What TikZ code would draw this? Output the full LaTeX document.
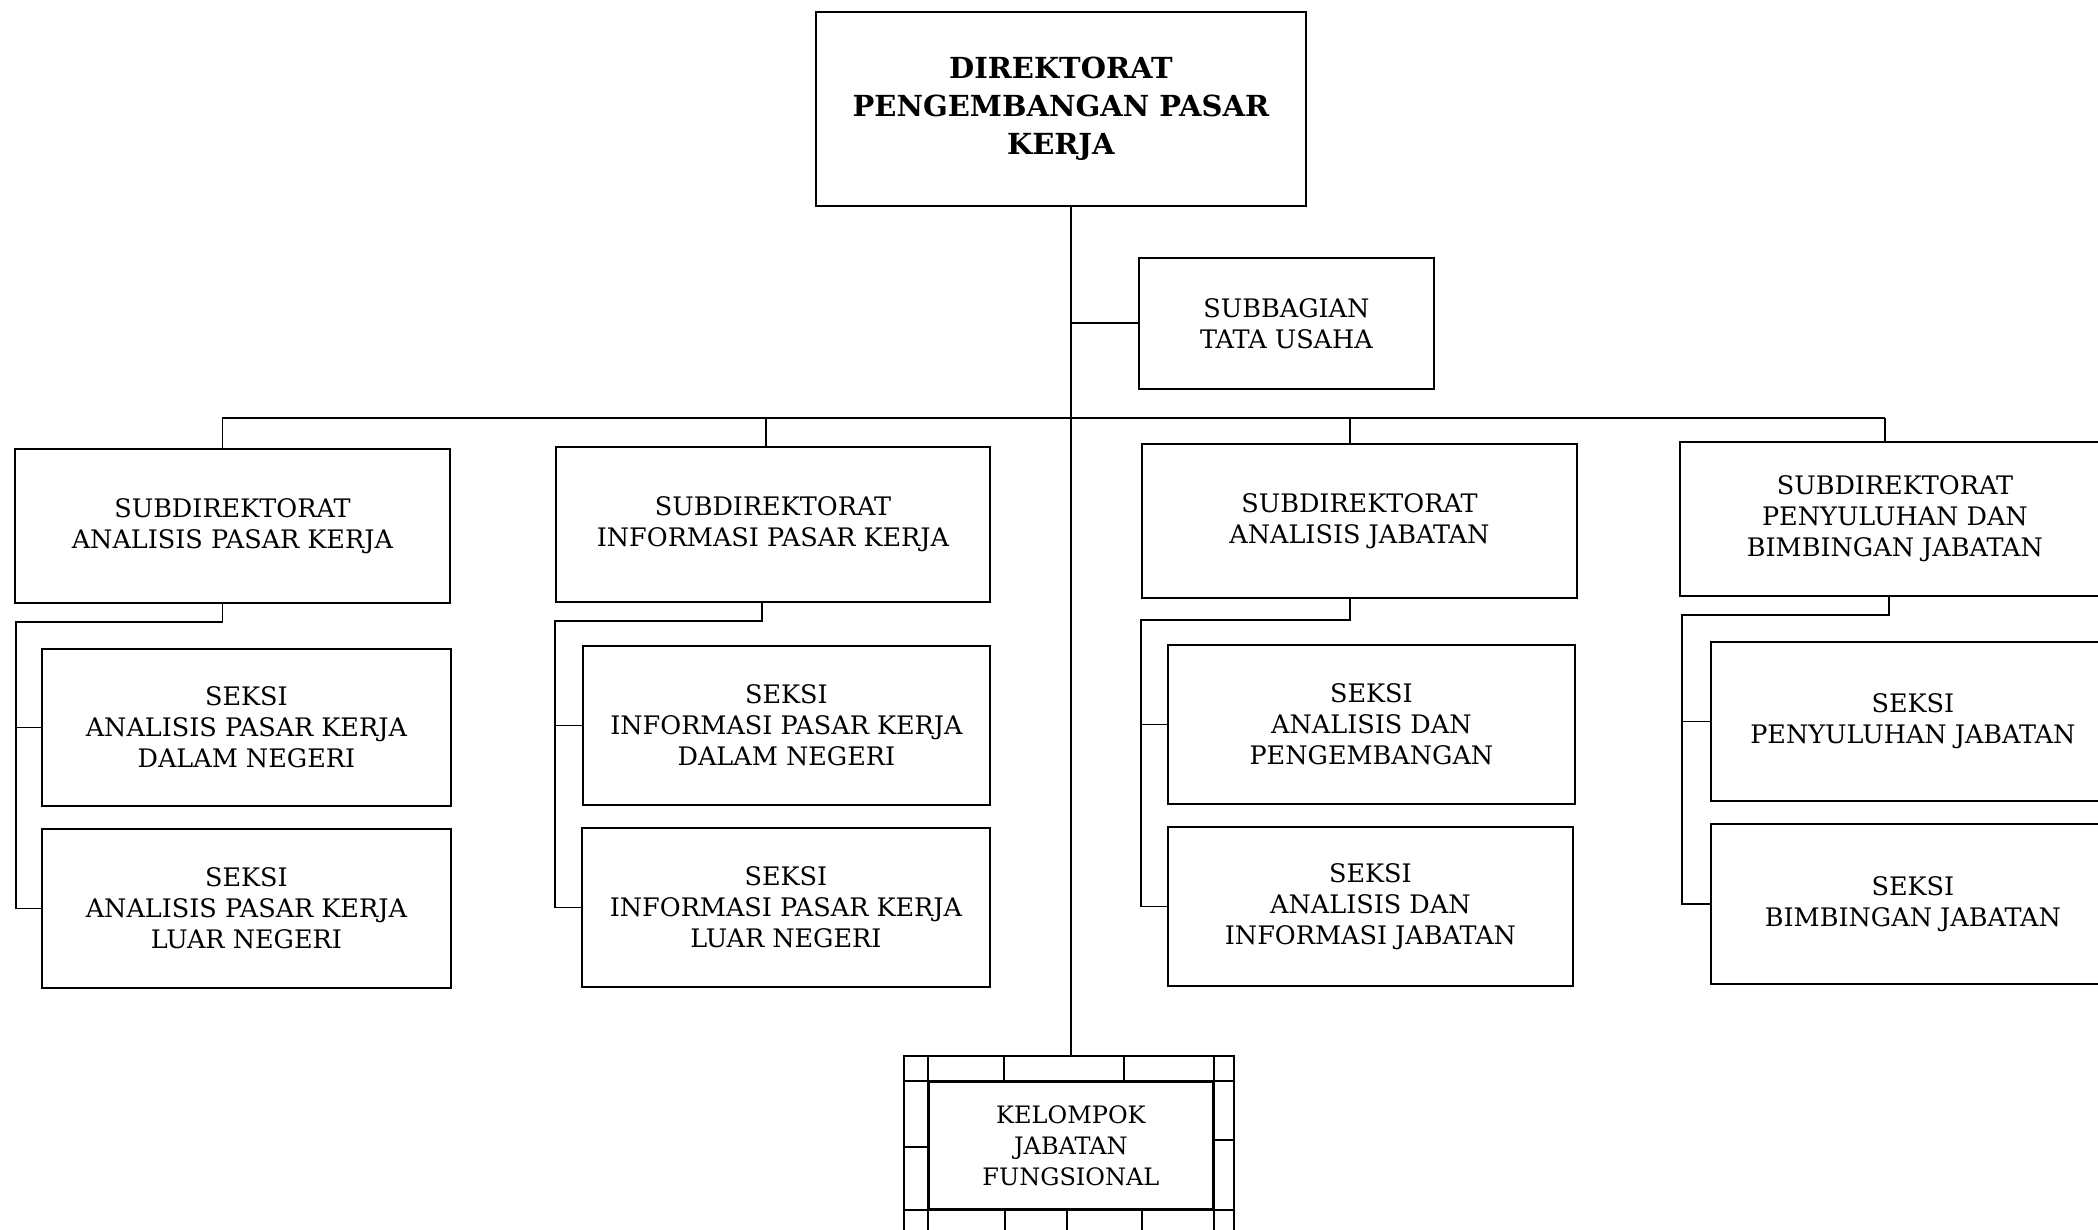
\documentclass[tikz,border=0pt]{standalone}
\usepackage{fontspec}
\setmainfont{DejaVu Serif}
\newfontfamily\headfont{DejaVu Serif}
\begin{document}
\begin{tikzpicture}[x=1pt, y=-1pt, line width=1.8pt,
  unit/.style={draw, rectangle, inner sep=0pt, align=center, anchor=north west,
    font=\fontsize{25.5}{31}\selectfont},
  headunit/.style={unit, font=\headfont\bfseries\fontsize{29}{38}\selectfont},
  link/.style={line width=1.8pt}]
\useasboundingbox (0,0) rectangle (2098,1230);
\clip (0,0) rectangle (2098,1230);

% directorate and administration
\node[headunit, minimum width=490pt, minimum height=194pt] (dir) at (815,11)
  {DIREKTORAT\\PENGEMBANGAN PASAR\\KERJA};
\node[unit, minimum width=295pt, minimum height=131pt] (tu) at (1138,257)
  {SUBBAGIAN\\TATA USAHA};

% sub-directorates
\node[unit, minimum width=435pt, minimum height=154pt] (sd1) at (14,448)
  {SUBDIREKTORAT\\ANALISIS PASAR KERJA};
\node[unit, minimum width=434pt, minimum height=155pt] (sd2) at (555,446)
  {SUBDIREKTORAT\\INFORMASI PASAR KERJA};
\node[unit, minimum width=435pt, minimum height=154pt] (sd3) at (1141,443)
  {SUBDIREKTORAT\\ANALISIS JABATAN};
\node[unit, minimum width=430pt, minimum height=154pt] (sd4) at (1679,441)
  {SUBDIREKTORAT\\PENYULUHAN DAN\\BIMBINGAN JABATAN};

% sections
\node[unit, minimum width=409pt, minimum height=157pt] (s11) at (41,648)
  {SEKSI\\ANALISIS PASAR KERJA\\DALAM NEGERI};
\node[unit, minimum width=409pt, minimum height=159pt] (s12) at (41,828)
  {SEKSI\\ANALISIS PASAR KERJA\\LUAR NEGERI};
\node[unit, minimum width=407pt, minimum height=159pt] (s21) at (582,645)
  {SEKSI\\INFORMASI PASAR KERJA\\DALAM NEGERI};
\node[unit, minimum width=408pt, minimum height=159pt] (s22) at (581,827)
  {SEKSI\\INFORMASI PASAR KERJA\\LUAR NEGERI};
\node[unit, minimum width=407pt, minimum height=159pt] (s31) at (1167,644)
  {SEKSI\\ANALISIS DAN\\PENGEMBANGAN};
\node[unit, minimum width=405pt, minimum height=159pt] (s32) at (1167,826)
  {SEKSI\\ANALISIS DAN\\INFORMASI JABATAN};
\node[unit, minimum width=404pt, minimum height=159pt] (s41) at (1710,641)
  {SEKSI\\PENYULUHAN JABATAN};
\node[unit, minimum width=404pt, minimum height=160pt] (s42) at (1710,823)
  {SEKSI\\BIMBINGAN JABATAN};

% functional group with its ruled frame
\node[draw, rectangle, minimum width=330pt, minimum height=200pt, anchor=north west] (kjfframe) at (903,1055) {};
\node[unit, minimum width=284pt, minimum height=127pt,
  font=\fontsize{24}{31}\selectfont] (kjf) at (928,1081)
  {KELOMPOK\\JABATAN\\FUNGSIONAL};
\draw (kjfframe.west |- kjf.north) -- (kjfframe.east |- kjf.north);
\draw (kjfframe.west |- kjf.south) -- (kjfframe.east |- kjf.south);
\draw (kjf.west |- kjfframe.north) -- (kjf.west |- kjfframe.south);
\draw (kjf.east |- kjfframe.north) -- (kjf.east |- kjfframe.south);
\draw (1004,1055) -- (1004,1081);
\draw (1124,1055) -- (1124,1081);
\draw (903,1147) -- (928,1147);
\draw (1212,1140) -- (1233,1140);
\draw (1005,1208) -- (1005,1255);
\draw (1067,1208) -- (1067,1255);
\draw (1142,1208) -- (1142,1255);

% spine and bus
\coordinate (spine) at (1071,0);
\coordinate (bus) at (0,418);
\draw[link] (dir.south -| spine) -- (kjfframe.north -| spine);
\draw[link] (tu.west -| spine) -- (tu.west);
\draw[link] ([xshift=-10pt]sd1.north |- bus) -- ([xshift=-10pt]sd4.north |- bus);
\draw[link] ([xshift=-10pt]sd1.north |- bus) -- ([xshift=-10pt]sd1.north);
\draw[link] ([xshift=-7pt]sd2.north |- bus) -- ([xshift=-7pt]sd2.north);
\draw[link] ([xshift=-9.5pt]sd3.north |- bus) -- ([xshift=-9.5pt]sd3.north);
\draw[link] ([xshift=-10pt]sd4.north |- bus) -- ([xshift=-10pt]sd4.north);

% section brackets
\coordinate (b1) at (16,622);
\coordinate (b2) at (555,621);
\coordinate (b3) at (1141,620);
\coordinate (b4) at (1682,615);
\draw[link] ([xshift=-10pt]sd1.south) |- (b1) |- (s12.west);
\draw[link] (b1 |- s11.west) -- (s11.west);
\draw[link] ([xshift=-11pt]sd2.south) |- (b2) |- (s22.west);
\draw[link] (b2 |- s21.west) -- (s21.west);
\draw[link] ([xshift=-9.5pt]sd3.south) |- (b3) |- (s32.west);
\draw[link] (b3 |- s31.west) -- (s31.west);
\draw[link] ([xshift=-6pt]sd4.south) |- (b4) |- (s42.west);
\draw[link] (b4 |- s41.west) -- (s41.west);
\end{tikzpicture}
\end{document}
